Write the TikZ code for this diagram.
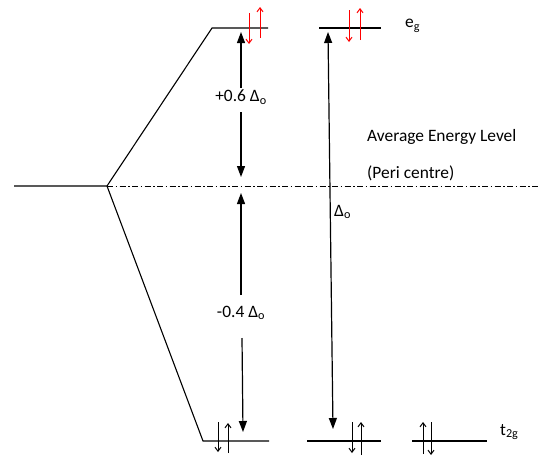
\documentclass[tikz,border=0pt]{standalone}
\usepackage{fontspec}
\setmainfont{Carlito}
\usetikzlibrary{arrows.meta}
\begin{document}
\begin{tikzpicture}[x=1pt,y=-1pt,
  level/.style={line width=1.1pt},
  spin/.style={line width=1pt,-{Straight Barb[length=4pt,width=6pt]}},
  redspin/.style={spin,draw=red},
  gaparrow/.style={line width=1.2pt,-{Triangle[length=11pt,width=8pt]}},
  lbl/.style={font=\fontsize{17.4}{20}\selectfont,inner sep=0pt}]
\useasboundingbox (0,0) rectangle (538,458);
% levels
\coordinate (L0) at (14,186);
\coordinate (B) at (107,186);
\coordinate (Bend) at (538,186);
\coordinate (E1a) at (212,28); \coordinate (E1b) at (268,28);
\coordinate (E2a) at (319,28); \coordinate (E2b) at (381,28);
\coordinate (T1a) at (203,441); \coordinate (T1b) at (269,441);
\coordinate (T2a) at (307,441); \coordinate (T2b) at (381,441);
\coordinate (T3a) at (412,441); \coordinate (T3b) at (487,441);
\draw[level] (L0) -- (B) -- (E1a) -- (E1b);
\draw[level] (B) -- (T1a) -- (T1b);
\draw[level] (E2a) -- (E2b);
\draw[level] (T2a) -- (T2b);
\draw[level] (T3a) -- (T3b);
\draw[line width=1pt,dash pattern=on 6pt off 2.5pt on 1.5pt off 2.5pt] (B) -- (Bend);
% eg spins
\coordinate (s1a) at (249,13); \coordinate (s1b) at (249,44);
\coordinate (s2a) at (260,38); \coordinate (s2b) at (260,7);
\coordinate (s3a) at (349,10); \coordinate (s3b) at (349,42);
\coordinate (s4a) at (360,40); \coordinate (s4b) at (360,8);
\draw[redspin] (s1a) -- (s1b);
\draw[redspin] (s2a) -- (s2b);
\draw[redspin] (s3a) -- (s3b);
\draw[redspin] (s4a) -- (s4b);
% t2g spins
\coordinate (t1a) at (218,422); \coordinate (t1b) at (218,452);
\coordinate (t2a) at (228,453); \coordinate (t2b) at (228,423);
\coordinate (t3a) at (352,422); \coordinate (t3b) at (352,453);
\coordinate (t4a) at (361,455); \coordinate (t4b) at (361,422);
\coordinate (t5a) at (423,454); \coordinate (t5b) at (423,422);
\coordinate (t6a) at (431,422); \coordinate (t6b) at (431,455);
\draw[spin] (t1a) -- (t1b);
\draw[spin] (t2a) -- (t2b);
\draw[spin] (t3a) -- (t3b);
\draw[spin] (t4a) -- (t4b);
\draw[spin] (t5a) -- (t5b);
\draw[spin] (t6a) -- (t6b);
% labels
\node[lbl] (p6) at (241,97) {+0.6 Δ\textsubscript{o}};
\node[lbl] (m4) at (241,313) {-0.4 Δ\textsubscript{o}};
\node[lbl,anchor=west] (dlt) at (334,212) {Δ\textsubscript{o}};
\node[lbl,anchor=west] (avg) at (367,137) {Average Energy Level};
\node[lbl,anchor=west] (peri) at (367,173) {(Peri centre)};
\node[lbl,anchor=west] (eg) at (405,26) {e\textsubscript{g}};
\node[lbl,anchor=west] (tg) at (500,432) {t\textsubscript{2g}};
% gap arrows
\coordinate (a1s) at (241,88); \coordinate (a1e) at (241,32);
\coordinate (a2s) at (241,112); \coordinate (a2e) at (241,177);
\coordinate (a3s) at (241,295); \coordinate (a3e) at (241,193);
\coordinate (a4s) at (242,338); \coordinate (a4e) at (243,432);
\draw[gaparrow] (a1s) -- (a1e);
\draw[gaparrow] (a2s) -- (a2e);
\draw[gaparrow] (a3s) -- (a3e);
\draw[gaparrow] (a4s) -- (a4e);
\coordinate (d1) at (328,32); \coordinate (d2) at (333,429);
\draw[line width=1.2pt,{Triangle[length=11pt,width=8pt]}-{Triangle[length=11pt,width=8pt]}] (d1) -- (d2);
\end{tikzpicture}
\end{document}
